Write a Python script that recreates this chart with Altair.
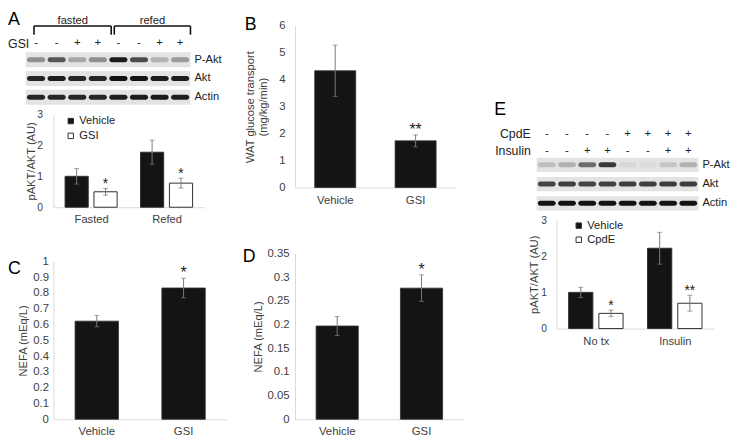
import altair as alt
import pandas as pd

FONT = "Liberation Sans"
TXT = "#404040"
AXC = "#d9d9d9"
BLACK = "#141414"
ERR = "#7a7a7a"

# ---------------- data ----------------
a_group = ["Fasted", "Fasted", "Refed", "Refed"]
a_treat = ["Vehicle", "GSI", "Vehicle", "GSI"]
a_mean = [1.00, 0.50, 1.78, 0.78]
a_err = [0.25, 0.11, 0.39, 0.16]
a_star = ["", "*", "", "*"]
a_yticks = [0, 1, 2, 3]

b_treat = ["Vehicle", "GSI"]
b_mean = [4.33, 1.73]
b_err = [0.95, 0.22]
b_star = ["", "**"]
b_yticks = [0, 1, 2, 3, 4, 5, 6]

c_treat = ["Vehicle", "GSI"]
c_mean = [0.622, 0.832]
c_err = [0.036, 0.062]
c_star = ["", "*"]
c_yticks = [0, 0.1, 0.2, 0.3, 0.4, 0.5, 0.6, 0.7, 0.8, 0.9, 1]

d_treat = ["Vehicle", "GSI"]
d_mean = [0.197, 0.277]
d_err = [0.020, 0.028]
d_star = ["", "*"]
d_yticks = [0, 0.05, 0.1, 0.15, 0.2, 0.25, 0.3, 0.35]

e_group = ["No tx", "No tx", "Insulin", "Insulin"]
e_treat = ["Vehicle", "CpdE", "Vehicle", "CpdE"]
e_mean = [1.00, 0.42, 2.22, 0.70]
e_err = [0.14, 0.09, 0.44, 0.22]
e_star = ["", "*", "", "**"]
e_yticks = [0, 1, 2, 3]

# western blots (band intensity per lane, 0 = none, 1 = saturated)
blot_rows = ["P-Akt", "Akt", "Actin"]
lanes = [1, 2, 3, 4, 5, 6, 7, 8]
a_gsi = ["-", "-", "+", "+", "-", "-", "+", "+"]
a_pakt = [0.35, 0.60, 0.25, 0.35, 0.90, 0.65, 0.20, 0.30]
a_akt = [0.85, 0.90, 0.85, 0.85, 0.95, 0.95, 0.90, 0.90]
a_actin = [0.85, 0.85, 0.85, 0.85, 0.90, 0.90, 0.90, 0.90]
e_cpde = ["-", "-", "-", "-", "+", "+", "+", "+"]
e_ins = ["-", "-", "+", "+", "-", "-", "+", "+"]
e_pakt = [0.15, 0.20, 0.50, 0.75, 0.05, 0.03, 0.12, 0.20]
e_akt = [0.70, 0.72, 0.70, 0.70, 0.72, 0.72, 0.72, 0.72]
e_actin = [0.95, 0.95, 0.95, 0.95, 0.95, 0.95, 0.95, 0.95]


def letter(t, x, y):
    return alt.Chart(pd.DataFrame({"t": [t]})).mark_text(
        align="left", baseline="alphabetic", fontSize=18, font=FONT, color="#000"
    ).encode(x=alt.value(x), y=alt.value(y), text="t:N")


def anchor(x):
    # invisible zero-width rule that fixes the left edge of a column's bounds
    return alt.Chart(pd.DataFrame({"v": [0]})).mark_rule(opacity=0, strokeWidth=0).encode(
        x=alt.value(x), y=alt.value(20), y2=alt.value(21))


def spacer(w, h):
    return alt.Chart(pd.DataFrame({"v": [0]})).mark_point(opacity=0, size=1).encode(
        x=alt.value(2), y=alt.value(2)
    ).properties(width=w, height=h)


def yaxis(values, title, lp, tp, fs=11.5):
    return alt.Axis(values=values, title=title, grid=False, ticks=False, domainColor=AXC,
                    labelFontSize=fs, labelColor=TXT, labelFont=FONT, labelPadding=lp,
                    titleFontSize=11.3, titleColor=TXT, titleFont=FONT, titleFontWeight="normal",
                    titlePadding=tp, titleLineHeight=13, format="~g", minExtent=0)


def xaxis(lp, fs=11.5, **kw):
    return alt.Axis(title=None, labelAngle=0, ticks=False, domainColor=AXC, labelFontSize=fs,
                    labelColor=TXT, labelFont=FONT, labelPadding=lp, minExtent=0, grid=False, **kw)


def simple_panel(treat, mean, err, star, ymax, yticks, ytitle, w, h, lp, tp, xlp, let, lx, ly,
                 pin=0.5, starsize=16, extra=None):
    df = pd.DataFrame({"t": treat, "m": mean, "e": err, "s": star})
    df["lo"] = df.m - df.e
    df["hi"] = df.m + df.e
    xs = alt.Scale(paddingInner=pin, paddingOuter=pin / 2)
    ys = alt.Scale(domain=[0, ymax], nice=False)
    xa = xaxis(xlp)
    ya = yaxis(yticks, ytitle, lp, tp)
    base = alt.Chart(df)
    xn = alt.X("t:N", sort=treat, scale=xs, axis=xa)

    def Y(f):
        return alt.Y(f, scale=ys, axis=ya)

    bars = base.mark_bar(color=BLACK, stroke="#303030", strokeWidth=0.8).encode(x=xn, y=Y("m:Q"))
    rule = base.mark_rule(color=ERR, strokeWidth=1).encode(x=xn, y=Y("lo:Q"), y2="hi:Q")
    cap1 = base.mark_tick(color=ERR, size=5, thickness=1).encode(x=xn, y=Y("lo:Q"))
    cap2 = base.mark_tick(color=ERR, size=5, thickness=1).encode(x=xn, y=Y("hi:Q"))
    stars = base.mark_text(baseline="alphabetic", fontSize=starsize, font=FONT, color="#222").encode(
        x=xn, y=Y("hi:Q"), text="s:N")
    layers = [bars, rule, cap1, cap2, stars, letter(let, lx, ly)]
    if extra is not None:
        layers.append(extra)
    return alt.layer(*layers).properties(width=w, height=h)


def grouped_panel(group, treat, mean, err, star, gorder, torder, ymax, yticks, ytitle, w, h,
                  lp, tp, xlp, lgx, lgy, rowpad, fs=10.5):
    half, gap = 0.345, 0.038
    df = pd.DataFrame({"g": group, "t": treat, "m": mean, "e": err, "s": star})
    df["lo"] = df.m - df.e
    df["hi"] = df.m + df.e
    gi = [gorder.index(g) + 0.5 for g in group]
    first = [torder.index(t) == 0 for t in treat]
    df["x0"] = [c - half if f else c + gap for c, f in zip(gi, first)]
    df["x1"] = [c - gap if f else c + half for c, f in zip(gi, first)]
    df["xc"] = (df.x0 + df.x1) / 2
    xs = alt.Scale(domain=[0, len(gorder)], nice=False, zero=False)
    ys = alt.Scale(domain=[0, ymax], nice=False)
    names = ",".join("'%s'" % g for g in gorder)
    xa = xaxis(xlp, 11.3, values=[i + 0.5 for i in range(len(gorder))],
               labelExpr="[%s][floor(datum.value)]" % names)
    ya = yaxis(yticks, ytitle, lp, tp, fs)
    base = alt.Chart(df)

    def X(f):
        return alt.X(f, scale=xs, axis=xa)

    def Y(f):
        return alt.Y(f, scale=ys, axis=ya)

    bars = base.mark_bar(stroke="#303030", strokeWidth=1).encode(
        x=X("x0:Q"), x2="x1:Q", y=Y("m:Q"), y2=alt.datum(0),
        fill=alt.Fill("t:N", sort=torder,
                      scale=alt.Scale(domain=torder, range=[BLACK, "#ffffff"]),
                      legend=alt.Legend(title=None, orient="none", legendX=lgx, legendY=lgy,
                                        symbolType="square", symbolSize=30,
                                        symbolStrokeColor="#303030", symbolStrokeWidth=1,
                                        labelFontSize=11.3, labelFont=FONT, labelColor="#222",
                                        rowPadding=rowpad, padding=0, labelOffset=3)),
    )
    rule = base.mark_rule(color=ERR, strokeWidth=1).encode(x=X("xc:Q"), y=Y("lo:Q"), y2="hi:Q")
    cap1 = base.mark_tick(color=ERR, size=5, thickness=1, orient="horizontal").encode(
        x=X("xc:Q"), y=Y("lo:Q"))
    cap2 = base.mark_tick(color=ERR, size=5, thickness=1, orient="horizontal").encode(
        x=X("xc:Q"), y=Y("hi:Q"))
    stars = base.mark_text(baseline="alphabetic", fontSize=14, font=FONT, color="#222").encode(
        x=X("xc:Q"), y=Y("hi:Q"), text="s:N")
    return alt.layer(bars, rule, cap1, cap2, stars).properties(width=w, height=h)


def blot_panel(intens, xdom, ydom, w, h, half, texts, segs, extra=None):
    xs = alt.Scale(domain=xdom, nice=False, zero=False)
    ys = alt.Scale(domain=ydom, nice=False, zero=False, reverse=True)
    sd = pd.DataFrame({"row": blot_rows, "r": [0, 1, 2]})
    sd["x0"] = 0.5
    sd["x1"] = 8.5
    sd["y0"] = sd.r - half
    sd["y1"] = sd.r + half
    strip = alt.Chart(sd).mark_rect(color="#e3e3e3").encode(
        x=alt.X("x0:Q", scale=xs, axis=None), x2="x1:Q",
        y=alt.Y("y0:Q", scale=ys, axis=None), y2="y1:Q")
    rows = []
    for ri, vals in enumerate(intens):
        for ln, v in zip(lanes, vals):
            rows.append({"x0": ln - 0.44, "x1": ln + 0.44, "y0": ri - 0.13, "y1": ri + 0.13, "v": v})
    bd = pd.DataFrame(rows)
    band = alt.Chart(bd).mark_rect(cornerRadius=3).encode(
        x=alt.X("x0:Q", scale=xs, axis=None), x2="x1:Q",
        y=alt.Y("y0:Q", scale=ys, axis=None), y2="y1:Q",
        color=alt.Color("v:Q", scale=alt.Scale(domain=[0, 1], range=["#e3e3e3", "#050505"]),
                        legend=None))
    labs = alt.Chart(sd.assign(x=8.5)).mark_text(
        align="left", baseline="middle", dx=4, fontSize=11.3, font=FONT, color="#222").encode(
        x=alt.X("x:Q", scale=xs, axis=None), y=alt.Y("r:Q", scale=ys, axis=None), text="row:N")
    layers = [strip, band, labs]
    for td in texts:
        layers.append(alt.Chart(td["df"]).mark_text(
            align=td["align"], baseline=td["baseline"], fontSize=td["size"], font=FONT,
            color=td["color"]).encode(
            x=alt.X("x:Q", scale=xs, axis=None), y=alt.Y("y:Q", scale=ys, axis=None), text="t:N"))
    if segs is not None:
        layers.append(alt.Chart(segs).mark_rule(color="#111", strokeWidth=1.6).encode(
            x=alt.X("x0:Q", scale=xs, axis=None), x2="x1:Q",
            y=alt.Y("y0:Q", scale=ys, axis=None), y2="y1:Q"))
    if extra is not None:
        layers.append(extra)
    return alt.layer(*layers).properties(width=w, height=h)


# ---------------- panel A blot ----------------
a_texts = [
    {"df": pd.DataFrame({"x": [-0.36], "y": [-2.6], "t": ["A"]}), "align": "left",
     "baseline": "top", "size": 18, "color": "#000"},
    {"df": pd.DataFrame({"x": [2.78, 6.65], "y": [-1.9, -1.9], "t": ["fasted", "refed"]}),
     "align": "center", "baseline": "alphabetic", "size": 11.3, "color": "#222"},
    {"df": pd.DataFrame({"x": [-0.36], "y": [-0.82], "t": ["GSI"]}), "align": "left",
     "baseline": "middle", "size": 12.5, "color": "#222"},
    {"df": pd.DataFrame({"x": lanes, "y": [-0.87] * 8, "t": a_gsi}), "align": "center",
     "baseline": "middle", "size": 11.5, "color": "#222"},
]
a_segs = pd.DataFrame({
    "x0": [0.9, 0.9, 4.65, 4.8, 4.8, 8.5],
    "x1": [4.65, 0.9, 4.65, 8.5, 4.8, 8.5],
    "y0": [-1.8, -1.8, -1.8, -1.8, -1.8, -1.8],
    "y1": [-1.8, -1.34, -1.34, -1.8, -1.34, -1.34],
})
a_blot = blot_panel([a_pakt, a_akt, a_actin], [1.841, 9.171], [-2.605, 2.921], 153, 105, 0.4,
                    a_texts, a_segs)

a_bar = grouped_panel(a_group, a_treat, a_mean, a_err, a_star, ["Fasted", "Refed"],
                      ["Vehicle", "GSI"], 3, a_yticks, "pAKT/AKT (AU)", 153, 94,
                      11, 0, 6, 12, 1, 3)

c_chart = simple_panel(c_treat, c_mean, c_err, c_star, 1, c_yticks, "NEFA (mEq/L)", 176, 160,
                       5, 4, 6.5, "C", -46, 13)

b_chart = simple_panel(b_treat, b_mean, b_err, b_star, 6, b_yticks,
                       ["WAT glucose transport", "(mg/kg/min)"], 163, 164, 10, 11, 7.5, "B", -51, 4,
                       pin=0.49, extra=anchor(-56))

d_chart = simple_panel(d_treat, d_mean, d_err, d_star, 0.35, d_yticks, "NEFA (mEq/L)", 171, 168,
                       6, 4, 6.5, "D", -53, 9)

# ---------------- panel E blot ----------------
e_texts = [
    {"df": pd.DataFrame({"x": [-1.598], "y": [-2.6], "t": ["E"]}), "align": "left",
     "baseline": "alphabetic", "size": 18, "color": "#000"},
    {"df": pd.DataFrame({"x": [0.207, 0.207], "y": [-1.574, -0.718], "t": ["CpdE", "Insulin"]}),
     "align": "right", "baseline": "middle", "size": 12.5, "color": "#222"},
    {"df": pd.DataFrame({"x": lanes, "y": [-1.6] * 8, "t": e_cpde}), "align": "center",
     "baseline": "middle", "size": 11.5, "color": "#222"},
    {"df": pd.DataFrame({"x": lanes, "y": [-0.74] * 8, "t": e_ins}), "align": "center",
     "baseline": "middle", "size": 11.5, "color": "#222"},
]
e_blot = blot_panel([e_pakt, e_akt, e_actin], [1.4756, 9.2805], [-8.0, 2.872], 160, 212, 0.37,
                    e_texts, None, extra=anchor(-65))

e_bar = grouped_panel(e_group, e_treat, e_mean, e_err, e_star, ["No tx", "Insulin"],
                      ["Vehicle", "CpdE"], 3, e_yticks, "pAKT/AKT (AU)", 160, 110,
                      10, 1, 7, 17, 0, 2.3)


def indep(c):
    return c.resolve_scale(fill="independent", color="independent").resolve_legend(
        fill="independent", color="independent")


col1 = indep(alt.vconcat(a_blot, a_bar, spacer(180, 55), c_chart, spacing=0, bounds="flush"))
col2 = indep(alt.vconcat(spacer(191, 15), b_chart, spacer(1, 67), d_chart, spacing=0, bounds="flush"))
col3 = indep(alt.vconcat(e_blot, e_bar, spacing=0, bounds="flush"))

chart = indep(alt.hconcat(col1, col2, col3, spacing=9)).properties(
    padding=0, background="white"
).configure(font=FONT).configure_view(stroke=None)

chart.save("out.html", embed_options={"renderer": "svg", "actions": False})
